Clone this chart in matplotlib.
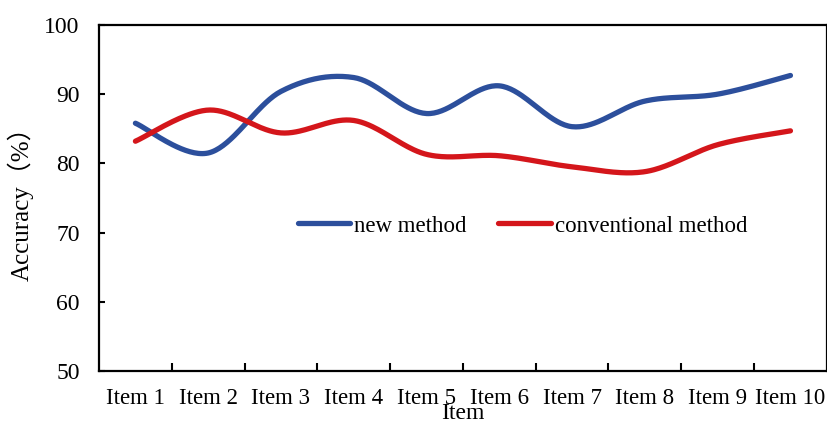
import numpy as np
from matplotlib import pyplot as plt
from matplotlib.ticker import FixedLocator, NullFormatter, FixedFormatter

items = ["Item %d" % i for i in range(1, 11)]
new_method = [85.8, 81.5, 90.4, 92.4, 87.2, 91.2, 85.3, 89.0, 90.0, 92.7]
conventional = [83.2, 87.7, 84.4, 86.2, 81.3, 81.1, 79.5, 78.8, 82.7, 84.7]

BLUE = "#2c4f9c"
RED = "#d4161b"
SERIF = ["Liberation Serif", "DejaVu Serif"]


def smooth(xs, ys, n=40):
    # excel-like smoothed line: cubic bezier through every point
    p = np.column_stack([xs, ys]).astype(float)
    out = [p[0]]
    for i in range(len(p) - 1):
        p0 = p[i - 1] if i > 0 else p[i]
        p1, p2 = p[i], p[i + 1]
        p3 = p[i + 2] if i + 2 < len(p) else p[i + 1]
        c1 = p1 + (p2 - p0) / 6
        c2 = p2 - (p3 - p1) / 6
        t = np.linspace(0, 1, n)[1:, None]
        seg = ((1 - t) ** 3 * p1 + 3 * (1 - t) ** 2 * t * c1
               + 3 * (1 - t) * t ** 2 * c2 + t ** 3 * p2)
        out.extend(seg)
    out = np.array(out)
    return out[:, 0], out[:, 1]


plt.rcParams['font.family'] = SERIF
plt.rcParams['font.size'] = 16.5

fig = plt.figure(figsize=(8.28, 4.23), dpi=100)
ax = fig.add_axes([0.1196, 0.123, 0.879, 0.818])

x = np.arange(1, len(items) + 1)
sx, sy = smooth(x, new_method)
ax.plot(sx, sy, color=BLUE, lw=3.8, solid_capstyle='round', label="new method")
sx, sy = smooth(x, conventional)
ax.plot(sx, sy, color=RED, lw=3.8, solid_capstyle='round', label="conventional method")

ax.set_xlim(0.5, len(items) + 0.5)
ax.set_ylim(50, 100)
ax.set_yticks(range(50, 101, 10))

# ticks on category borders, labels in the middle
ax.xaxis.set_major_locator(FixedLocator(np.arange(1.5, len(items), 1)))
ax.xaxis.set_major_formatter(NullFormatter())
ax.xaxis.set_minor_locator(FixedLocator(x))
ax.xaxis.set_minor_formatter(FixedFormatter(items))
ax.tick_params(axis='x', which='major', direction='in', length=6, width=1.5)
ax.tick_params(axis='x', which='minor', length=0, pad=12, labelsize=16.5)
ax.tick_params(axis='y', direction='in', length=4, width=1.5, pad=14, labelsize=17)

for s in ax.spines.values():
    s.set_linewidth(1.6)

ax.set_xlabel("Item", fontsize=17)
ax.xaxis.set_label_coords(0.5, -0.092)
ax.set_ylabel("Accuracy（%）", fontsize=18, family=["Liberation Serif", "Noto Sans CJK SC"])
ax.yaxis.set_label_coords(-0.09, 0.5)

ax.legend(loc='center left', bbox_to_anchor=(0.273, 0.419), ncol=2, frameon=False,
          borderpad=0, borderaxespad=0, handlelength=2.3, handletextpad=0.15,
          columnspacing=1.4, fontsize=16.5)

plt.savefig("out.png", dpi=100)
